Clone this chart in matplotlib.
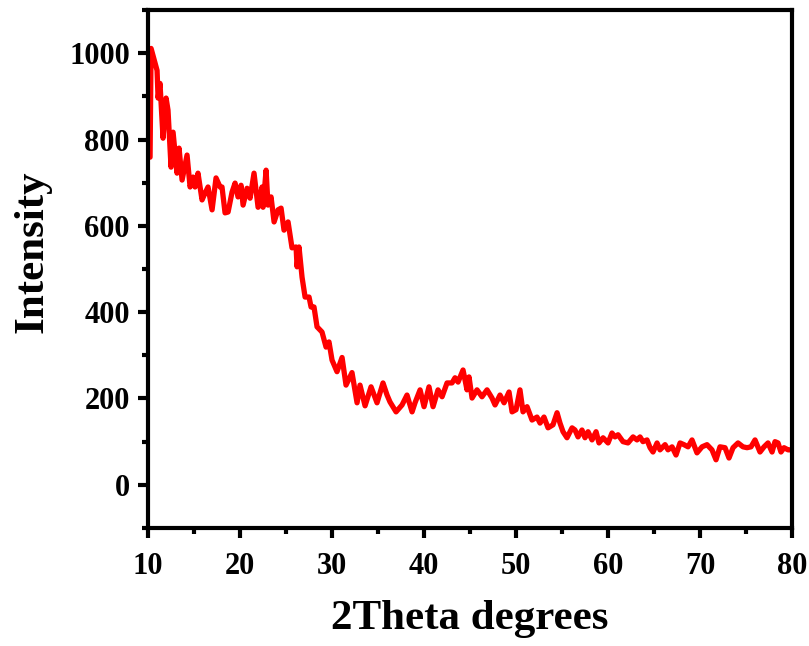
import matplotlib
matplotlib.use("Agg")
import matplotlib.pyplot as plt
from matplotlib.ticker import MultipleLocator

two_theta = [10.22, 10.33, 10.98, 11.09, 11.30, 11.63, 11.96, 12.17, 12.50, 12.72,
             13.15, 13.37, 13.70, 14.24, 14.57, 14.89, 15.11, 15.43, 15.87, 16.20,
             16.52, 16.96, 17.39, 17.83, 18.04, 18.37, 18.70, 19.13, 19.46, 19.78,
             20.11, 20.33, 20.76, 21.09, 21.52, 21.96, 22.39, 22.50, 22.83, 23.04,
             23.37, 23.70, 24.13, 24.46, 24.78, 25.22, 25.65, 26.09, 26.20, 26.41,
             26.74, 27.07, 27.50, 27.72, 28.04, 28.37, 28.91, 29.35, 29.67, 30.00,
             30.54, 31.09, 31.52, 32.17, 32.72, 33.04, 33.59, 34.24, 34.89, 35.54,
             35.98, 36.30, 36.96, 37.61, 38.15, 38.70, 39.02, 39.57, 40.00, 40.54,
             40.98, 41.52, 41.96, 42.50, 43.04, 43.37, 43.70, 44.24, 44.67, 44.89,
             45.22, 45.76, 46.30, 46.85, 47.39, 47.72, 48.26, 48.70, 49.24, 49.57,
             50.00, 50.43, 50.76, 51.20, 51.74, 52.28, 52.61, 53.04, 53.48, 54.02,
             54.46, 54.78, 55.11, 55.54, 56.09, 56.41, 56.74, 57.17, 57.50, 57.83,
             58.26, 58.70, 59.02, 59.46, 60.00, 60.43, 60.76, 61.09, 61.63, 62.17,
             62.72, 63.15, 63.48, 63.80, 64.24, 64.57, 64.89, 65.33, 65.65, 66.20,
             66.52, 66.96, 67.39, 67.83, 68.26, 68.70, 69.13, 69.67, 70.22, 70.76,
             71.30, 71.74, 72.17, 72.72, 73.15, 73.59, 74.13, 74.67, 75.11, 75.54,
             75.98, 76.52, 76.96, 77.39, 77.83, 78.15, 78.48, 78.80, 79.13, 79.57,
             79.78, 80.00]

intensity = [759, 1011, 960, 896, 930, 803, 896, 868, 736, 817,
             722, 780, 706, 764, 690, 713, 690, 722, 660, 676,
             690, 637, 711, 690, 690, 630, 632, 678, 699, 667,
             694, 648, 687, 664, 722, 643, 690, 643, 729, 648,
             667, 609, 637, 641, 590, 609, 549, 551, 505, 551,
             481, 435, 435, 412, 412, 366, 354, 319, 331, 289,
             262, 295, 231, 260, 190, 231, 183, 227, 190, 236,
             208, 192, 169, 185, 208, 169, 190, 220, 181, 227,
             181, 220, 204, 236, 236, 248, 238, 266, 220, 250,
             201, 220, 204, 220, 201, 185, 208, 190, 215, 169,
             174, 220, 169, 181, 150, 157, 143, 157, 132, 139,
             167, 143, 123, 109, 132, 127, 111, 127, 109, 123,
             104, 123, 97, 109, 97, 120, 111, 116, 100, 97,
             111, 104, 111, 100, 104, 86, 76, 97, 81, 93,
             81, 88, 69, 97, 93, 88, 104, 74, 88, 93,
             81, 58, 88, 86, 62, 86, 97, 88, 86, 88,
             104, 76, 88, 97, 76, 100, 97, 76, 86, 81,
             81, 80]

x_ticks = [10, 20, 30, 40, 50, 60, 70, 80]
y_ticks = [0, 200, 400, 600, 800, 1000]

plt.rcParams['font.family'] = ['Liberation Serif', 'DejaVu Serif']
plt.rcParams['font.weight'] = 'bold'

fig = plt.figure(figsize=(8.09, 6.46), dpi=100)
ax = fig.add_axes([0.183, 0.1827, 0.796, 0.8018])

ax.plot(two_theta, intensity, color='#ff0000', linewidth=3.8,
        solid_joinstyle='round', solid_capstyle='round')

ax.set_xlim(10, 80)
ax.set_ylim(-100, 1100)
ax.set_xticks(x_ticks)
ax.set_yticks(y_ticks)
ax.xaxis.set_minor_locator(MultipleLocator(5))
ax.yaxis.set_minor_locator(MultipleLocator(100))

for s in ax.spines.values():
    s.set_linewidth(3.0)

ax.tick_params(axis='both', which='major', direction='out', length=7, width=3,
               labelsize=22, pad=6)
ax.tick_params(axis='both', which='minor', direction='out', length=4, width=3)
ax.tick_params(axis='x', which='major', pad=10)
for lab in ax.get_xticklabels() + ax.get_yticklabels():
    lab.set_fontweight('bold')

ax.set_xlabel('2Theta degrees', fontsize=31, fontweight='bold', labelpad=14)
ax.set_ylabel('Intensity', fontsize=31, fontweight='bold')
ax.yaxis.set_label_coords(-0.15, 0.533)

fig.savefig('out.png', dpi=100)
